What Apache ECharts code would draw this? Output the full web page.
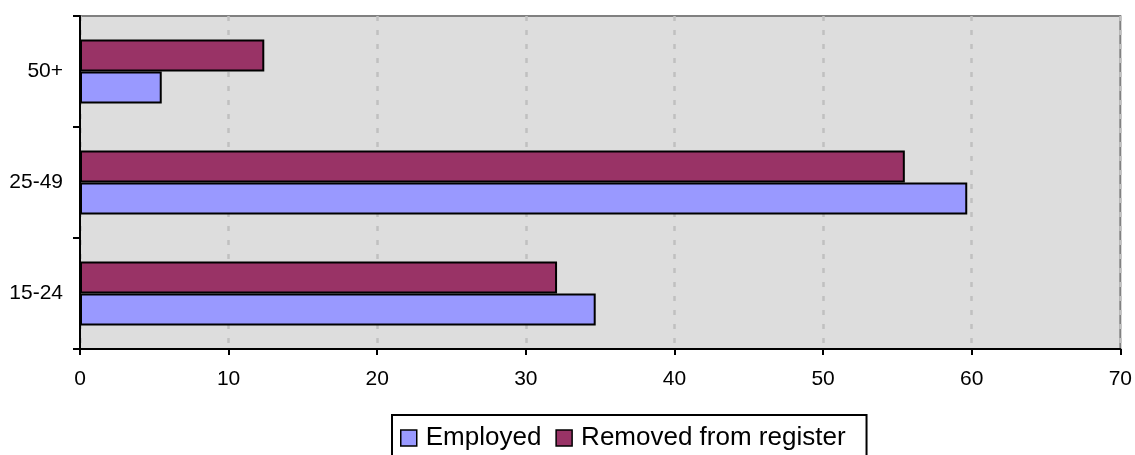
<!DOCTYPE html>
<html>
<head>
<meta charset="utf-8">
<script src="https://cdn.jsdelivr.net/npm/echarts@6/dist/echarts.min.js"></script>
<style>
  html, body { margin: 0; padding: 0; background: #ffffff; }
  #chart { width: 1135px; height: 455px; }
</style>
</head>
<body>
<div id="chart"></div>
<script>
// Age groups, bottom to top
const categories = ['15-24', '25-49', '50+'];
// Share per age group
const employed = [34.7, 59.7, 5.5];
const removedFromRegister = [32.1, 55.5, 12.4];
const seriesNames = ['Employed', 'Removed from register'];

const FONT = '"Liberation Sans", Arial, sans-serif';

const chart = echarts.init(document.getElementById('chart'), null, { renderer: 'canvas' });

chart.setOption({
  animation: false,
  backgroundColor: '#ffffff',
  textStyle: { fontFamily: FONT, color: '#000' },
  grid: {
    left: 80, right: 14, top: 16, bottom: 106,
    show: true,
    backgroundColor: '#dddddd',
    borderColor: '#808080',
    borderWidth: 2
  },
  legend: {
    data: seriesNames,
    left: 392, top: 415,
    orient: 'horizontal',
    icon: 'rect',
    itemWidth: 16, itemHeight: 16, itemGap: 14,
    padding: [10, 21, 10, 8],
    borderColor: '#000', borderWidth: 2,
    backgroundColor: '#ffffff',
    itemStyle: { borderColor: '#000', borderWidth: 1.5 },
    textStyle: { fontFamily: FONT, fontSize: 26, color: '#000', padding: [0, 0, 0, 4] }
  },
  xAxis: {
    type: 'value',
    min: 0, max: 70, interval: 10,
    axisLine: { show: true, lineStyle: { color: '#000', width: 2 } },
    axisTick: { show: true, length: 6, lineStyle: { color: '#000', width: 2 } },
    axisLabel: { fontFamily: FONT, fontSize: 21, color: '#000', margin: 20 },
    splitLine: { show: true, lineStyle: { color: '#c0c0c0', width: 2.5, type: [5, 9] } }
  },
  yAxis: {
    type: 'category',
    data: categories,
    axisLine: { show: true, lineStyle: { color: '#000', width: 2 } },
    axisTick: { show: true, length: 7, lineStyle: { color: '#000', width: 2 } },
    axisLabel: { fontFamily: FONT, fontSize: 21, color: '#000', margin: 17 },
    splitLine: { show: false }
  },
  // Removed series listed first so it sits above Employed within each group
  series: [
    {
      name: seriesNames[1],
      type: 'bar',
      data: removedFromRegister,
      barWidth: 32,
      barGap: '0%',
      itemStyle: { color: '#993366', borderColor: '#000', borderWidth: 2 }
    },
    {
      name: seriesNames[0],
      type: 'bar',
      data: employed,
      barWidth: 32,
      barGap: '0%',
      itemStyle: { color: '#9999ff', borderColor: '#000', borderWidth: 2 }
    }
  ]
});
</script>
</body>
</html>
